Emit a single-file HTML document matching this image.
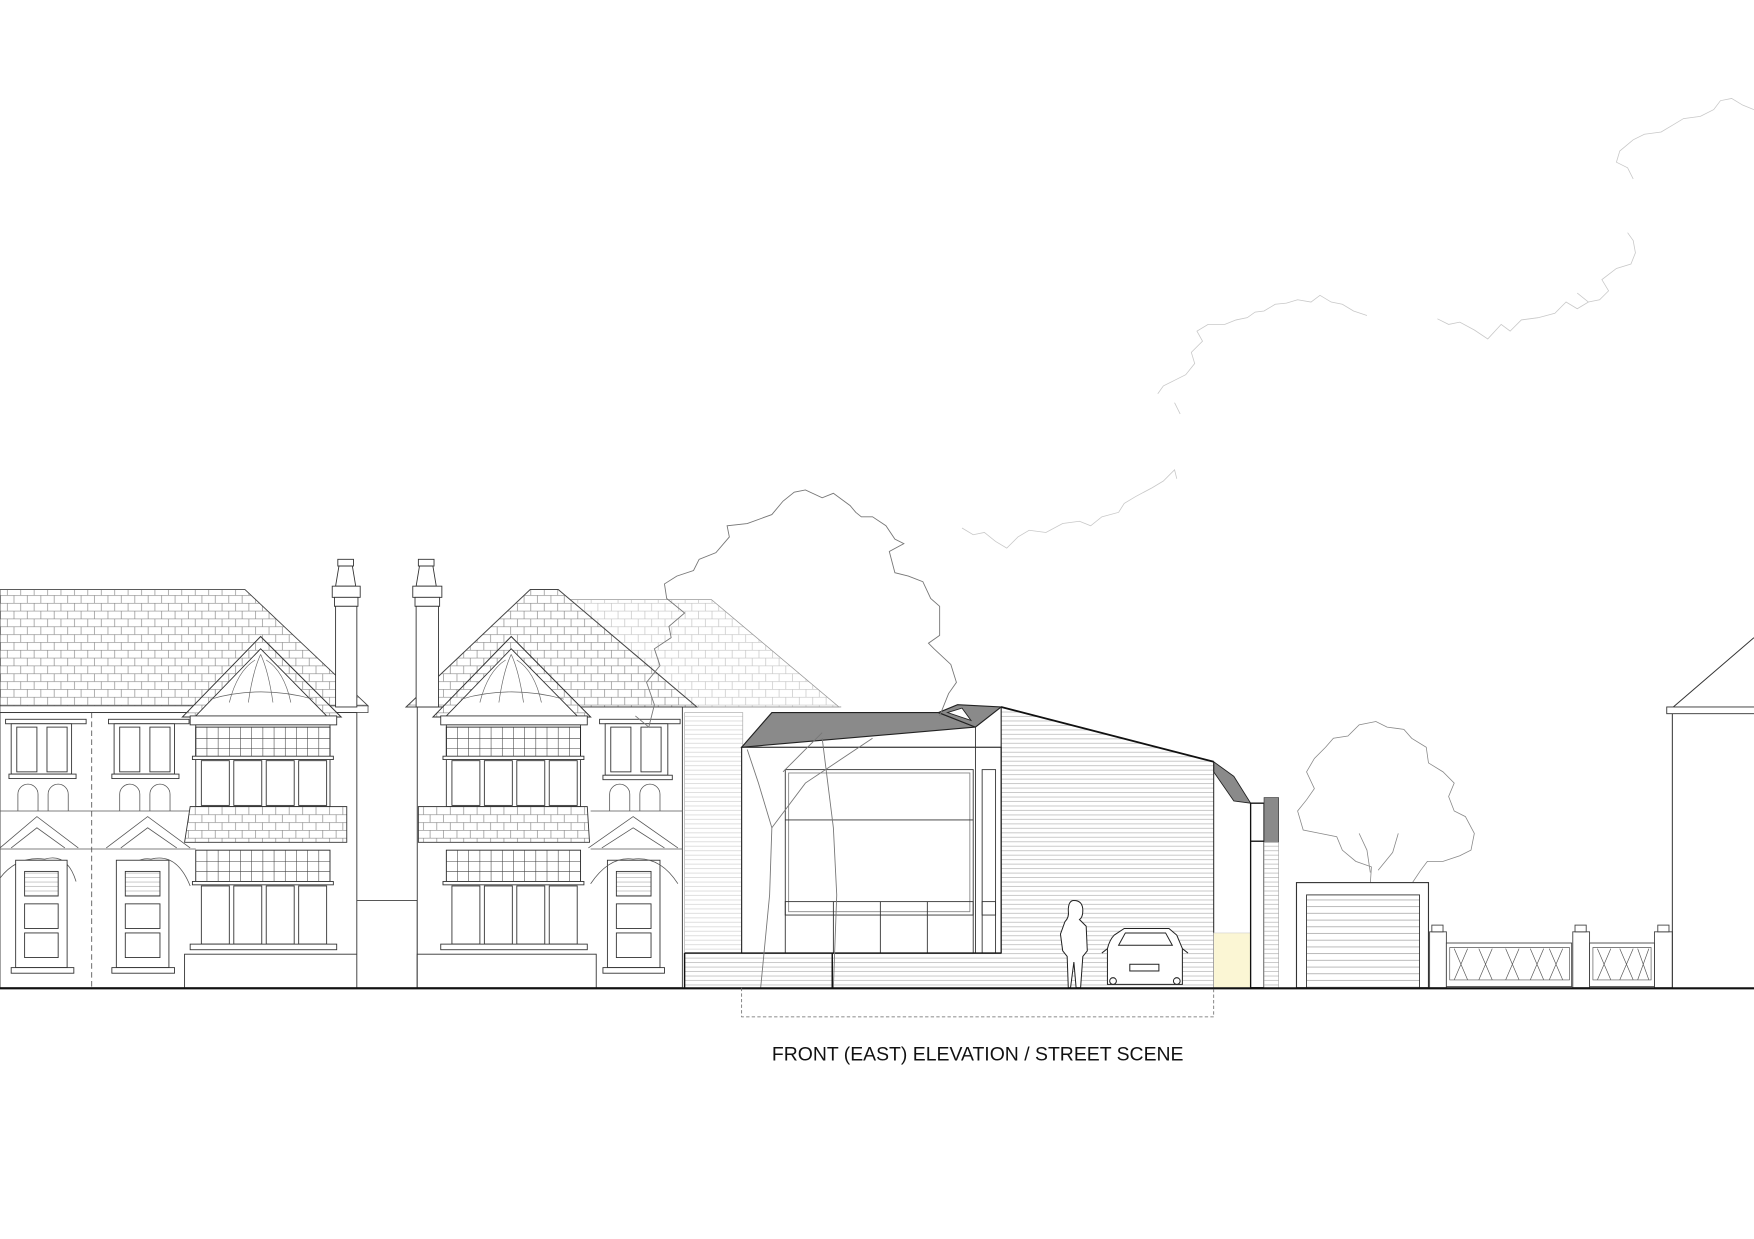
<!DOCTYPE html>
<html><head><meta charset="utf-8"><style>
html,body{margin:0;padding:0;background:#fff;}
svg{display:block;}
</style></head><body>
<svg width="1754" height="1239" viewBox="0 0 1568 1107.6" preserveAspectRatio="none" xmlns="http://www.w3.org/2000/svg">
<defs>
<pattern id="tile" width="12" height="14" patternUnits="userSpaceOnUse">
<rect width="12" height="14" fill="#fff"/>
<path d="M0 0.3H12M0 7.3H12M0.5 0V7M6.5 7V14" stroke="#8a8a8a" stroke-width="0.6" fill="none"/>
</pattern>
<pattern id="tileL" width="12" height="14" patternUnits="userSpaceOnUse">
<rect width="12" height="14" fill="#fff"/>
<path d="M0 0.3H12M0 7.3H12M0.5 0V7M6.5 7V14" stroke="#c4c4c4" stroke-width="0.6" fill="none"/>
</pattern>
<pattern id="sid" width="10" height="4" patternUnits="userSpaceOnUse">
<rect width="10" height="4" fill="#fff"/>
<path d="M0 0.5H10" stroke="#b0b0b0" stroke-width="0.6"/>
</pattern>
<pattern id="sidL" width="10" height="4" patternUnits="userSpaceOnUse">
<rect width="10" height="4" fill="#fff"/>
<path d="M0 0.5H10" stroke="#d0d0d0" stroke-width="0.6"/>
</pattern>
<pattern id="gar" width="10" height="6" patternUnits="userSpaceOnUse">
<rect width="10" height="6" fill="#fff"/>
<path d="M0 0.5H10" stroke="#999" stroke-width="0.6"/>
</pattern>
<g id="win4">
<rect x="0" y="0" width="120" height="28" fill="none" stroke="#222" stroke-width="0.8"/>
<path d="M30 0V28M60 0V28M90 0V28M10 0V28M20 0V28M40 0V28M50 0V28M70 0V28M80 0V28M100 0V28M110 0V28M0 10H120M0 19H120" stroke="#444" stroke-width="0.5"/>
</g>
</defs>

<g fill="none" stroke="#c8c8c8" stroke-width="0.7">
<polyline points="860,472 870,478 880,476 890,484 900,490 910,480 920,474 935,476 950,468 965,466 975,470 985,462 1000,458 1005,450 1015,444 1030,436 1040,430 1050,420 1052,428"/>
<polyline points="1035,352 1040,345 1050,340 1060,335 1068,325 1065,315 1075,305 1070,296 1080,290 1095,290 1105,286 1115,284 1122,279 1130,278 1140,272 1150,271 1160,268 1172,270 1180,264 1190,270 1200,272 1210,278 1222,282"/>
<polyline points="1050,360 1055,370"/>
<polyline points="1285,285 1295,290 1305,288 1318,295 1330,303 1342,290 1350,296 1360,286 1375,284 1390,280 1400,270 1410,276 1420,270 1430,268 1438,260 1432,250 1445,240 1458,236 1462,226 1460,215 1455,208"/>
<polyline points="1460,160 1455,150 1445,145 1448,135 1460,125 1470,120 1485,118 1495,112 1505,106 1520,104 1532,98 1538,90 1548,88 1558,94 1568,98"/>
<polyline points="1410,262 1420,270"/>
</g>

<polygon points="505,536 636,536 750,632 560,632" fill="url(#tileL)" stroke="#999" stroke-width="0.7"/>
<line x1="600" y1="632" x2="752" y2="632" stroke="#999" stroke-width="0.8"/>
<rect x="612" y="637" width="52" height="246" fill="url(#sidL)" stroke="#aaa" stroke-width="0.6"/>

<polygon points="0,527 219,527 329,631 0,631" fill="url(#tile)" stroke="#444" stroke-width="0.8"/>
<rect x="0" y="631" width="329" height="6" fill="#fff" stroke="#444" stroke-width="0.7"/>
<rect x="0" y="637" width="319" height="246" fill="#fff" stroke="#333" stroke-width="0.8"/>
<line x1="82" y1="637" x2="82" y2="883" stroke="#444" stroke-width="0.7" stroke-dasharray="5,3"/>
<g stroke="#333" stroke-width="0.8" fill="#fff">
<rect x="302" y="500" width="14" height="6"/>
<polygon points="303,506 315,506 318,524 300,524"/>
<rect x="297" y="524" width="25" height="10"/>
<rect x="299" y="534" width="21" height="8"/>
<rect x="300" y="542" width="19" height="90"/>
</g>
<g stroke="#333" stroke-width="0.8" fill="#fff">
<rect x="5" y="643" width="72" height="4"/><rect x="10" y="647" width="54" height="45"/>
<rect x="15" y="650" width="18" height="40"/><rect x="42" y="650" width="18" height="40"/>
<rect x="8" y="692" width="60" height="4"/>
<rect x="97" y="643" width="72" height="4"/><rect x="102" y="647" width="54" height="45"/>
<rect x="107" y="650" width="18" height="40"/><rect x="134" y="650" width="18" height="40"/>
<rect x="100" y="692" width="60" height="4"/>
</g>
<g fill="none" stroke="#555" stroke-width="0.7">
<path d="M16 725V710A9 9 0 0 1 34 710V725M43 725V710A9 9 0 0 1 61 710V725"/>
<path d="M107 725V710A9 9 0 0 1 125 710V725M134 725V710A9 9 0 0 1 152 710V725"/>
<line x1="0" y1="725" x2="175" y2="725"/>
<line x1="0" y1="759" x2="175" y2="759"/>
<path d="M0 758L33 730L70 758M10 758L33 740L58 758"/>
<path d="M95 758L132 730L170 758M108 758L132 740L158 758"/>
<path d="M0 785Q15 765 40 768Q60 762 68 788"/>
<path d="M105 788Q120 765 135 768Q158 762 170 792"/>
</g>
<g stroke="#333" stroke-width="0.8" fill="#fff">
<rect x="14" y="769" width="46" height="96"/>
<rect x="22" y="779" width="30" height="22" fill="url(#sid)"/>
<rect x="22" y="808" width="30" height="22"/><rect x="22" y="834" width="30" height="22"/>
<rect x="104" y="769" width="47" height="96"/>
<rect x="112" y="779" width="31" height="22" fill="url(#sid)"/>
<rect x="112" y="808" width="31" height="22"/><rect x="112" y="834" width="31" height="22"/>
<rect x="10" y="865" width="56" height="5"/><rect x="100" y="865" width="56" height="5"/>
</g>
<polygon points="163,641 233,569 305,641" fill="url(#tile)" stroke="#333" stroke-width="0.9"/>
<polygon points="175,640 233,580 292,640" fill="#fff" stroke="#333" stroke-width="0.8"/>
<g fill="none" stroke="#666" stroke-width="0.6">
<path d="M188 625Q233 612 280 625"/>
<path d="M205 628Q212 600 228 590M260 628Q254 600 238 590M222 628Q226 600 233 585M244 628Q240 600 233 585"/>
</g>
<g stroke="#333" stroke-width="0.8" fill="#fff">
<rect x="170" y="640" width="131" height="8"/>
<rect x="175" y="648" width="120" height="73"/>
<use href="#win4" x="175" y="650"/>
<rect x="172" y="676" width="126" height="3"/>
<rect x="180" y="680" width="25" height="40"/><rect x="209" y="680" width="25" height="40"/><rect x="238" y="680" width="25" height="40"/><rect x="267" y="680" width="25" height="40"/>
<polygon points="170,721 310,721 310,753 165,753" fill="url(#tile)"/>
<use href="#win4" x="175" y="760"/>
<rect x="172" y="788" width="126" height="3"/>
<rect x="180" y="792" width="25" height="52"/><rect x="209" y="792" width="25" height="52"/><rect x="238" y="792" width="25" height="52"/><rect x="267" y="792" width="25" height="52"/>
<rect x="170" y="844" width="131" height="5"/>
<rect x="165" y="853" width="154" height="30"/>
</g>

<rect x="319" y="805" width="54" height="78" fill="#fff" stroke="#444" stroke-width="0.8"/>

<polygon points="363,632 474,527 499,527 623,632" fill="url(#tile)" stroke="#444" stroke-width="0.9"/>
<rect x="373" y="632" width="237" height="251" fill="#fff" stroke="#333" stroke-width="0.8"/>
<g stroke="#333" stroke-width="0.8" fill="#fff">
<rect x="374" y="500" width="14" height="6"/>
<polygon points="375,506 387,506 390,524 372,524"/>
<rect x="369" y="524" width="26" height="10"/>
<rect x="371" y="534" width="22" height="8"/>
<rect x="372" y="542" width="20" height="90"/>
</g>
<polygon points="387,641 457,569 528,641" fill="url(#tile)" stroke="#333" stroke-width="0.9"/>
<polygon points="399,640 457,580 516,640" fill="#fff" stroke="#333" stroke-width="0.8"/>
<g fill="none" stroke="#666" stroke-width="0.6">
<path d="M412 625Q457 612 504 625"/>
<path d="M429 628Q436 600 452 590M484 628Q478 600 462 590M446 628Q450 600 457 585M468 628Q464 600 457 585"/>
</g>
<g stroke="#333" stroke-width="0.8" fill="#fff">
<rect x="394" y="640" width="131" height="8"/>
<rect x="399" y="648" width="120" height="73"/>
<use href="#win4" x="399" y="650"/>
<rect x="396" y="676" width="126" height="3"/>
<rect x="404" y="680" width="25" height="40"/><rect x="433" y="680" width="25" height="40"/><rect x="462" y="680" width="25" height="40"/><rect x="491" y="680" width="25" height="40"/>
<polygon points="374,721 525,721 527,753 374,753" fill="url(#tile)"/>
<use href="#win4" x="399" y="760"/>
<rect x="396" y="788" width="126" height="3"/>
<rect x="404" y="792" width="25" height="52"/><rect x="433" y="792" width="25" height="52"/><rect x="462" y="792" width="25" height="52"/><rect x="491" y="792" width="25" height="52"/>
<rect x="394" y="844" width="131" height="5"/>
<rect x="373" y="853" width="160" height="30"/>
<rect x="536" y="643" width="72" height="4"/><rect x="541" y="647" width="56" height="46"/>
<rect x="546" y="650" width="18" height="40"/><rect x="573" y="650" width="18" height="40"/>
<rect x="539" y="693" width="62" height="4"/>
<rect x="543" y="769" width="47" height="96"/>
<rect x="551" y="779" width="31" height="22" fill="url(#sid)"/>
<rect x="551" y="808" width="31" height="22"/><rect x="551" y="834" width="31" height="22"/>
<rect x="539" y="865" width="55" height="5"/>
</g>
<g fill="none" stroke="#555" stroke-width="0.7">
<path d="M545 725V710A9 9 0 0 1 563 710V725M572 725V710A9 9 0 0 1 590 710V725"/>
<line x1="528" y1="725" x2="610" y2="725"/><line x1="528" y1="759" x2="610" y2="759"/>
<path d="M526 758L566 730L606 758M538 758L566 740L594 758"/>
<path d="M528 790Q545 765 566 768Q590 765 606 790"/>
</g>

<polygon points="895,632 1085,681 1085,883 895,883" fill="url(#sid)"/>
<rect x="612" y="852" width="473" height="31" fill="url(#sid)"/>
<rect x="663" y="668" width="232" height="184" fill="#fff" stroke="#222" stroke-width="1"/>
<polygon points="663,668 690,637 839,637 872,650" fill="#8a8a8a" stroke="#222" stroke-width="1"/>
<polygon points="839,637 856,630 895,632 872,650" fill="#8a8a8a" stroke="#222" stroke-width="1"/>
<polygon points="847,637 860,633 868,644" fill="#fff" stroke="#222" stroke-width="0.8"/>
<line x1="872" y1="650" x2="872" y2="852" stroke="#333" stroke-width="0.8"/>
<polyline points="895,632 1085,681" fill="none" stroke="#111" stroke-width="1.6"/>
<line x1="895" y1="632" x2="895" y2="852" stroke="#222" stroke-width="1"/>
<g fill="none" stroke="#333" stroke-width="0.8">
<rect x="702" y="688" width="168" height="130"/>
<rect x="705" y="691" width="162" height="124" stroke="#888"/>
<line x1="702" y1="733" x2="870" y2="733"/>
<rect x="878" y="688" width="12" height="130"/>
<rect x="702" y="806" width="168" height="46"/>
<path d="M745 806V852M787 806V852M829 806V852"/>
<rect x="878" y="806" width="12" height="46"/>
</g>
<line x1="612" y1="852" x2="612" y2="883" stroke="#111" stroke-width="1.3"/>
<line x1="612" y1="852" x2="895" y2="852" stroke="#111" stroke-width="1.3"/>
<line x1="744" y1="852" x2="744" y2="883" stroke="#111" stroke-width="1.3"/>
<polygon points="1085,681 1103,694 1118,718 1103,716 1085,690" fill="#8a8a8a" stroke="#222" stroke-width="0.8"/>
<line x1="1085" y1="681" x2="1085" y2="883" stroke="#222" stroke-width="0.9"/>
<rect x="1085" y="834" width="33" height="49" fill="#fbf6d4" stroke="#ccc" stroke-width="0.5"/>
<rect x="1118" y="718" width="12" height="165" fill="#fff" stroke="#111" stroke-width="1.2"/>
<line x1="1118" y1="752" x2="1130" y2="752" stroke="#111" stroke-width="1.2"/>
<rect x="1130" y="713" width="13" height="40" fill="#8a8a8a" stroke="#333" stroke-width="0.6"/>
<rect x="1130" y="753" width="13" height="130" fill="url(#sid)" stroke="#999" stroke-width="0.5"/>

<g fill="none" stroke="#777" stroke-width="0.8">
<path d="M568 640L580 650L585 630L578 610L590 595L585 580L600 570L598 560L612 548L596 535L594 522L605 515L620 510L625 500L640 494L652 480L650 470L668 468L690 460L700 448L710 440L720 438L735 445L745 441L760 452L765 458L770 462L780 462L792 470L800 482L808 486L795 493L800 512L812 515L825 520L832 535L840 542L840 568L830 575L835 580L850 594L855 610L848 620L840 640"/>
<path d="M680 883L688 800L690 740L678 700L668 670"/>
<path d="M745 883L748 800L745 740L740 700L735 660"/>
<path d="M690 740L720 700L750 680L780 660"/>
<path d="M700 690L720 670L735 655"/>
</g>

<path d="M960 805Q968 805 968 814Q968 820 965 822L971 828L972 850L968 855L966 883H962L960 860L957 883H955L954 855L950 850L948 835L952 824Q956 820 955 814Q955 805 960 805Z" fill="#fff" stroke="#222" stroke-width="0.9"/>
<g fill="#fff" stroke="#222" stroke-width="0.9">
<path d="M990 880V848Q992 840 996 836L1005 830H1045L1052 836L1057 848V880Z"/>
<path d="M1000 845L1006 834H1042L1048 845Z" fill="none"/>
<rect x="1010" y="862" width="26" height="6"/>
<circle cx="995" cy="877" r="3"/><circle cx="1052" cy="877" r="3"/>
<path d="M985 852L990 848M1062 852L1057 848"/>
</g>

<g fill="none" stroke="#888" stroke-width="0.7">
<path d="M1225 790L1226 775L1212 770L1200 760L1195 748L1180 745L1165 742L1160 725L1168 715L1175 705L1168 690L1175 678L1185 668L1192 660L1205 658L1215 648L1230 645L1240 650L1255 652L1262 660L1275 668L1277 682L1290 690L1300 700L1295 712L1300 725L1310 730L1318 745L1315 760L1305 765L1290 770L1276 770L1270 778L1262 790"/>
<path d="M1225 780L1222 760L1215 745M1232 778L1245 762L1250 745"/>
</g>

<rect x="1159" y="789" width="118" height="94" fill="#fff" stroke="#333" stroke-width="1"/>
<rect x="1168" y="800" width="101" height="83" fill="url(#gar)" stroke="#333" stroke-width="0.8"/>

<g stroke="#444" stroke-width="0.8" fill="#fff">
<rect x="1278" y="833" width="15" height="50"/><rect x="1280" y="827" width="10" height="6"/>
<rect x="1406" y="833" width="15" height="50"/><rect x="1408" y="827" width="10" height="6"/>
<rect x="1479" y="833" width="16" height="50"/><rect x="1482" y="827" width="10" height="6"/>
<rect x="1293" y="843" width="112" height="39"/>
<rect x="1421" y="843" width="58" height="39"/>
</g>
<g fill="none" stroke="#555" stroke-width="0.6">
<path d="M1296 847H1403V876H1296Z M1424 847H1476V876H1424Z"/>
<path d="M1300 848L1312 876M1312 848L1300 876M1322 848L1334 876M1334 848L1322 876M1346 848L1358 876M1358 848L1346 876M1368 848L1380 876M1380 848L1368 876M1385 848L1397 876M1397 848L1385 876"/>
<path d="M1428 848L1440 876M1440 848L1428 876M1448 848L1460 876M1460 848L1448 876M1464 848L1474 876M1474 848L1464 876"/>
</g>

<polyline points="1490,637 1568,570" fill="none" stroke="#333" stroke-width="0.9"/>
<rect x="1490" y="632" width="80" height="6" fill="#fff" stroke="#333" stroke-width="0.8"/>
<line x1="1495" y1="638" x2="1495" y2="883" stroke="#333" stroke-width="0.9"/>

<line x1="0" y1="883.5" x2="1568" y2="883.5" stroke="#111" stroke-width="2"/>
<path d="M663 883V909H1085V883" fill="none" stroke="#666" stroke-width="0.7" stroke-dasharray="3,2"/>

<text x="690" y="948" font-family="Liberation Sans, sans-serif" font-size="17" textLength="368" lengthAdjust="spacingAndGlyphs" fill="#111">FRONT (EAST) ELEVATION / STREET SCENE</text>
</svg>
</body></html>
